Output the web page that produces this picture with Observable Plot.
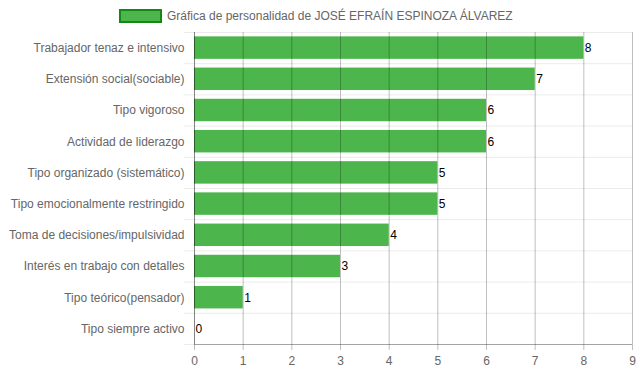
<!DOCTYPE html>
<html>
<head>
<meta charset="utf-8">
<script src="https://cdn.jsdelivr.net/npm/d3@7"></script>
<script src="https://cdn.jsdelivr.net/npm/@observablehq/plot@0.6"></script>
<style>
  html, body { margin: 0; padding: 0; background: #fff; }
  body { width: 639px; height: 372px; overflow: hidden; font-family: "Liberation Sans", Arial, Helvetica, sans-serif; }
  #legend { position: relative; height: 30px; width: 639px; }
  #legend .box { position: absolute; left: 119px; top: 9px; width: 43px; height: 14px; box-sizing: border-box; background: #4cb54c; border: 2.5px solid #128a12; }
  #legend .lbl { position: absolute; left: 167px; top: 8px; font-size: 12px; line-height: 16px; color: #666; white-space: nowrap; }
  svg { display: block; }
</style>
</head>
<body>
<div id="legend"><div class="box"></div><div class="lbl"></div></div>
<div id="chart"></div>
<script>
const seriesName = "Gráfica de personalidad de JOSÉ EFRAÍN ESPINOZA ÁLVAREZ";
const categories = [
  "Trabajador tenaz e intensivo",
  "Extensión social(sociable)",
  "Tipo vigoroso",
  "Actividad de liderazgo",
  "Tipo organizado (sistemático)",
  "Tipo emocionalmente restringido",
  "Toma de decisiones/impulsividad",
  "Interés en trabajo con detalles",
  "Tipo teórico(pensador)",
  "Tipo siempre activo"
];
const values = [8, 7, 6, 6, 5, 5, 4, 3, 1, 0];
const xTicks = [0, 1, 2, 3, 4, 5, 6, 7, 8, 9];

document.querySelector("#legend .lbl").textContent = seriesName;

const data = categories.map((c, i) => ({i, name: c, v: values[i]}));
const idx = categories.map((c, i) => i);
const bounds = [...idx.map(i => i - 0.5), categories.length - 0.5];

const chart = Plot.plot({
  width: 639,
  height: 342,
  marginTop: 2,
  marginBottom: 28,
  marginLeft: 194,
  marginRight: 7,
  style: {fontFamily: "'Liberation Sans', Arial, Helvetica, sans-serif", fontSize: "12px", background: "#fff"},
  x: {domain: [0, 9], axis: null, label: null},
  y: {domain: [-0.5, categories.length - 0.5], reverse: true, axis: null, label: null},
  marks: [
    Plot.gridY(bounds, {stroke: "#000", strokeOpacity: 0.08}),
    Plot.axisY(bounds, {tickSize: 10, tickFormat: () => "", label: null, stroke: "#000", strokeOpacity: 0.08}),
    Plot.rect(data, {x1: 0, x2: "v", y1: d => d.i - 0.36, y2: d => d.i + 0.36, fill: "#4cb54c"}),
    Plot.gridX(xTicks, {stroke: "#000", strokeOpacity: 0.25}),
    Plot.axisX(xTicks, {anchor: "bottom", tickSize: 6, tickPadding: 6, label: null, stroke: "#000", strokeOpacity: 0.25, fill: "#666", tickFormat: d => String(d), fontSize: 12}),
    Plot.axisY(idx, {tickSize: 0, tickPadding: 10, label: null, tickFormat: i => categories[i], fill: "#666", fontSize: 12}),
    Plot.ruleX([0], {stroke: "#000", strokeOpacity: 0.3}),
    Plot.ruleY([categories.length - 0.5], {stroke: "#000", strokeOpacity: 0.3}),
    Plot.text(data, {x: "v", y: "i", text: d => String(d.v), textAnchor: "start", dx: 1, fill: "#000", fontSize: 12})
  ]
});
document.getElementById("chart").appendChild(chart);
</script>
</body>
</html>
